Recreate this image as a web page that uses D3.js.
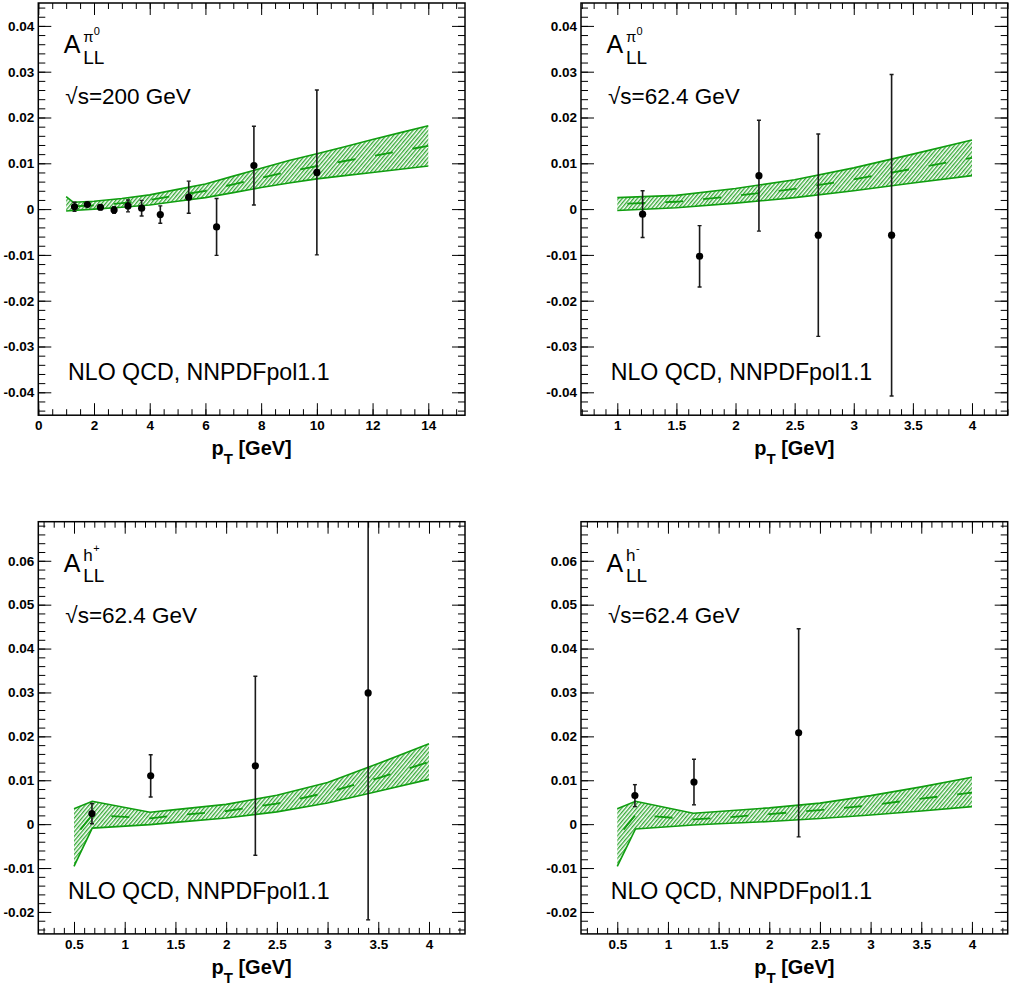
<!DOCTYPE html>
<html><head><meta charset="utf-8">
<script src="https://cdn.jsdelivr.net/npm/d3@7"></script>
<style>
body{margin:0;background:#fff}
svg{display:block}
text{font-family:"Liberation Sans",Arial,Helvetica,sans-serif}
</style>
</head><body>
<svg id="c" width="1015" height="988"></svg>
<script>
// ---------------- data ----------------
// Panel 1: pi0, sqrt(s)=200 GeV
const pi200X   = [1.30, 1.76, 2.23, 2.72, 3.22, 3.71, 4.38, 5.40, 6.40, 7.74, 10.0];
const pi200Y   = [0.0005, 0.0010, 0.0004, -0.0002, 0.0007, 0.0002, -0.0012, 0.0026, -0.0039, 0.0095, 0.0080];
const pi200Err = [0.0010, 0.0004, 0.0005, 0.0007, 0.0013, 0.0017, 0.0019, 0.0035, 0.0062, 0.0086, 0.0180];
const pi200ThX  = [1, 1.25, 2, 3, 4, 5, 6, 7, 8, 9, 10, 11, 12, 13, 14];
const pi200ThUp = [0.0027, 0.0015, 0.0017, 0.0023, 0.0031, 0.0043, 0.0055, 0.0072, 0.0089, 0.0106, 0.0121, 0.0136, 0.0152, 0.0167, 0.0182];
const pi200ThLo = [-0.0004, -0.0003, 0.0000, 0.0004, 0.0009, 0.0017, 0.0025, 0.0036, 0.0047, 0.0057, 0.0066, 0.0073, 0.0080, 0.0087, 0.0094];
const pi200ThC  = [0.0011, 0.0006, 0.0008, 0.0013, 0.0020, 0.0030, 0.0040, 0.0054, 0.0068, 0.0082, 0.0094, 0.0105, 0.0116, 0.0127, 0.0138];

// Panel 2: pi0, sqrt(s)=62.4 GeV
const pi62X   = [1.214, 1.696, 2.198, 2.70, 3.32];
const pi62Y   = [-0.0011, -0.0103, 0.0073, -0.0057, -0.0057];
const pi62Err = [0.0051, 0.0067, 0.0121, 0.0221, 0.0351];
const pi62ThX  = [1.0, 1.5, 2.0, 2.5, 3.0, 3.5, 4.0];
const pi62ThUp = [0.0025, 0.0030, 0.0045, 0.0064, 0.0090, 0.0120, 0.0151];
const pi62ThLo = [-0.0003, 0.0003, 0.0013, 0.0025, 0.0040, 0.0057, 0.0073];
const pi62ThC  = [0.0011, 0.0016, 0.0029, 0.0044, 0.0065, 0.0088, 0.0112];

// Panel 3: h+, sqrt(s)=62.4 GeV
const hpX   = [0.677, 1.256, 2.288, 3.40];
const hpY   = [0.0024, 0.0110, 0.0133, 0.0299];
const hpErr = [0.0023, 0.0048, 0.0204, 0.0517];
const hpThX  = [0.5, 0.68, 1.25, 1.5, 2.0, 2.5, 3.0, 3.5, 4.0];
const hpThUp = [0.0035, 0.0052, 0.0027, 0.0033, 0.0045, 0.0066, 0.0095, 0.0138, 0.0183];
const hpThLo = [-0.0096, -0.0009, -0.0001, 0.0004, 0.0014, 0.0028, 0.0048, 0.0075, 0.0102];
const hpThC  = [-0.0030, 0.0021, 0.0013, 0.0020, 0.0030, 0.0047, 0.0072, 0.0105, 0.0142];

// Panel 4: h-, sqrt(s)=62.4 GeV
const hmX   = [0.674, 1.257, 2.29];
const hmY   = [0.0065, 0.0096, 0.0208];
const hmErr = [0.0025, 0.0052, 0.0237];
const hmThX  = [0.5, 0.68, 1.25, 1.5, 2.0, 2.5, 3.0, 3.5, 4.0];
const hmThUp = [0.0035, 0.0052, 0.0025, 0.0029, 0.0037, 0.0048, 0.0065, 0.0085, 0.0107];
const hmThLo = [-0.0096, -0.0011, -0.0002, 0.0001, 0.0006, 0.0013, 0.0021, 0.0030, 0.0040];
const hmThC  = [-0.0030, 0.0021, 0.0011, 0.0014, 0.0023, 0.0032, 0.0043, 0.0058, 0.0072];

// tick values / labels
const yTicksTop = [-0.04, -0.03, -0.02, -0.01, 0, 0.01, 0.02, 0.03, 0.04];
const yLabelsTop = ["-0.04", "-0.03", "-0.02", "-0.01", "0", "0.01", "0.02", "0.03", "0.04"];
const yTicksBot = [-0.02, -0.01, 0, 0.01, 0.02, 0.03, 0.04, 0.05, 0.06];
const yLabelsBot = ["-0.02", "-0.01", "0", "0.01", "0.02", "0.03", "0.04", "0.05", "0.06"];
const xTicks200 = [0, 2, 4, 6, 8, 10, 12, 14];
const xLabels200 = ["0", "2", "4", "6", "8", "10", "12", "14"];
const xTicks62 = [1, 1.5, 2, 2.5, 3, 3.5, 4];
const xLabels62 = ["1", "1.5", "2", "2.5", "3", "3.5", "4"];
const xTicksH = [0.5, 1, 1.5, 2, 2.5, 3, 3.5, 4];
const xLabelsH = ["0.5", "1", "1.5", "2", "2.5", "3", "3.5", "4"];

// labels
const labelSup = ["π", "π", "h", "h"];
const labelSupSup = ["0", "0", "+", "-"];
const energyLabels = ["√s=200 GeV", "√s=62.4 GeV", "√s=62.4 GeV", "√s=62.4 GeV"];
const theoryLabel = "NLO QCD, NNPDFpol1.1";
const xTitle = ["p", "T", " [GeV]"];

// ---------------- drawing ----------------
const GREEN = "#109e10";
const svg = d3.select("#c");
const defs = svg.append("defs");
const pat = defs.append("pattern").attr("id", "hatch")
  .attr("patternUnits", "userSpaceOnUse").attr("width", 2.9).attr("height", 10)
  .attr("patternTransform", "rotate(40)");
pat.append("line").attr("x1", 0.7).attr("y1", 0).attr("x2", 0.7).attr("y2", 10)
  .attr("stroke", "#1f9f1f").attr("stroke-width", 1.2);

const W = 426.7, H = 412.2;
const panels = [
  {left: 38.3, top: 3, xd: [0, 15.318], yd: [-0.045, 0.045],
   px: pi200X, py: pi200Y, pe: pi200Err, tx: pi200ThX, tu: pi200ThUp, tl: pi200ThLo, tc: pi200ThC,
   xt: xTicks200, xl: xLabels200, xm: 0.5, yt: yTicksTop, yl: yLabelsTop},
  {left: 581, top: 3, xd: [0.693, 4.302], yd: [-0.045, 0.045],
   px: pi62X, py: pi62Y, pe: pi62Err, tx: pi62ThX, tu: pi62ThUp, tl: pi62ThLo, tc: pi62ThC,
   xt: xTicks62, xl: xLabels62, xm: 0.1, yt: yTicksTop, yl: yLabelsTop},
  {left: 38.3, top: 521.7, xd: [0.148, 4.355], yd: [-0.025, 0.0689],
   px: hpX, py: hpY, pe: hpErr, tx: hpThX, tu: hpThUp, tl: hpThLo, tc: hpThC,
   xt: xTicksH, xl: xLabelsH, xm: 0.1, yt: yTicksBot, yl: yLabelsBot},
  {left: 581, top: 521.7, xd: [0.142, 4.353], yd: [-0.025, 0.0689],
   px: hmX, py: hmY, pe: hmErr, tx: hmThX, tu: hmThUp, tl: hmThLo, tc: hmThC,
   xt: xTicksH, xl: xLabelsH, xm: 0.1, yt: yTicksBot, yl: yLabelsBot}
];

function minorTicks(domain, step) {
  const out = [];
  const start = Math.ceil(domain[0] / step - 1e-9);
  const end = Math.floor(domain[1] / step + 1e-9);
  for (let i = start; i <= end; i++) out.push(+(i * step).toFixed(6));
  return out;
}

panels.forEach((p, k) => {
  const g = svg.append("g").attr("transform", `translate(${p.left},${p.top})`);
  const x = d3.scaleLinear().domain(p.xd).range([0, W]);
  const y = d3.scaleLinear().domain(p.yd).range([H, 0]);

  defs.append("clipPath").attr("id", "clip" + k)
    .append("rect").attr("x", 0).attr("y", 0).attr("width", W).attr("height", H);
  const plot = g.append("g").attr("clip-path", `url(#clip${k})`);

  const band = p.tx.map((t, i) => ({x: t, u: p.tu[i], l: p.tl[i], c: p.tc[i]}));
  plot.append("path").datum(band)
    .attr("d", d3.area().x(d => x(d.x)).y0(d => y(d.l)).y1(d => y(d.u)))
    .attr("fill", "url(#hatch)").attr("stroke", "none");
  plot.append("path").datum(band)
    .attr("d", d3.line().x(d => x(d.x)).y(d => y(d.u)))
    .attr("fill", "none").attr("stroke", GREEN).attr("stroke-width", 1.6);
  plot.append("path").datum(band)
    .attr("d", d3.line().x(d => x(d.x)).y(d => y(d.l)))
    .attr("fill", "none").attr("stroke", GREEN).attr("stroke-width", 1.6);
  plot.append("path").datum(band)
    .attr("d", d3.line().x(d => x(d.x)).y(d => y(d.c)))
    .attr("fill", "none").attr("stroke", GREEN).attr("stroke-width", 1.8)
    .attr("stroke-dasharray", "18,20").attr("stroke-dashoffset", -10);

  const pts = p.px.map((v, i) => ({x: v, y: p.py[i], e: p.pe[i]}));
  const eb = plot.append("g");
  eb.selectAll("line.bar").data(pts).join("line").attr("class", "bar")
    .attr("x1", d => x(d.x)).attr("x2", d => x(d.x))
    .attr("y1", d => y(d.y - d.e)).attr("y2", d => y(d.y + d.e))
    .attr("stroke", "#1a1a1a").attr("stroke-width", 1.6);
  eb.selectAll("line.capt").data(pts).join("line").attr("class", "capt")
    .attr("x1", d => x(d.x) - 2).attr("x2", d => x(d.x) + 2)
    .attr("y1", d => y(d.y + d.e)).attr("y2", d => y(d.y + d.e))
    .attr("stroke", "#1a1a1a").attr("stroke-width", 1.4);
  eb.selectAll("line.capb").data(pts).join("line").attr("class", "capb")
    .attr("x1", d => x(d.x) - 2).attr("x2", d => x(d.x) + 2)
    .attr("y1", d => y(d.y - d.e)).attr("y2", d => y(d.y - d.e))
    .attr("stroke", "#1a1a1a").attr("stroke-width", 1.4);
  eb.selectAll("circle").data(pts).join("circle")
    .attr("cx", d => x(d.x)).attr("cy", d => y(d.y)).attr("r", 3.6).attr("fill", "#000");

  // axes (ticks inside)
  const yMinor = minorTicks(p.yd, 0.002);
  const xMinor = minorTicks(p.xd, p.xm);
  function styleAxis(sel) {
    sel.select(".domain").remove();
    sel.selectAll("line").attr("stroke", "#000").attr("stroke-width", 1);
  }
  g.append("g").call(d3.axisLeft(y).tickValues(yMinor).tickSize(-7).tickFormat("")).call(styleAxis);
  g.append("g").attr("transform", `translate(${W},0)`)
    .call(d3.axisRight(y).tickValues(yMinor).tickSize(-7).tickFormat("")).call(styleAxis);
  g.append("g").attr("transform", `translate(${W},0)`)
    .call(d3.axisRight(y).tickValues(p.yt).tickSize(-13).tickFormat("")).call(styleAxis);
  const yl = g.append("g")
    .call(d3.axisLeft(y).tickValues(p.yt).tickSize(-13).tickPadding(4).tickFormat((d, i) => p.yl[i]))
    .call(styleAxis);
  yl.attr("font-family", null).attr("font-size", null);
  yl.selectAll("text").attr("font-family", "'Liberation Sans',Arial,sans-serif")
    .attr("font-size", 13.5).attr("font-weight", "bold").attr("fill", "#000");

  g.append("g").attr("transform", `translate(0,${H})`)
    .call(d3.axisBottom(x).tickValues(xMinor).tickSize(-6).tickFormat("")).call(styleAxis);
  g.append("g")
    .call(d3.axisTop(x).tickValues(xMinor).tickSize(-6).tickFormat("")).call(styleAxis);
  g.append("g")
    .call(d3.axisTop(x).tickValues(p.xt).tickSize(-12).tickFormat("")).call(styleAxis);
  const xa = g.append("g").attr("transform", `translate(0,${H})`)
    .call(d3.axisBottom(x).tickValues(p.xt).tickSize(-12).tickPadding(5.5).tickFormat((d, i) => p.xl[i]))
    .call(styleAxis);
  xa.attr("font-family", null).attr("font-size", null);
  xa.selectAll("text").attr("font-family", "'Liberation Sans',Arial,sans-serif")
    .attr("font-size", 13.5).attr("font-weight", "bold").attr("fill", "#000");

  // frame
  g.append("rect").attr("x", 0).attr("y", 0).attr("width", W).attr("height", H)
    .attr("fill", "none").attr("stroke", "#000").attr("stroke-width", 1.5);

  // x title
  const t = g.append("text").attr("x", W / 2).attr("y", H + 40)
    .attr("text-anchor", "middle").attr("font-weight", "bold").attr("font-size", 20).attr("fill", "#000");
  t.append("tspan").text(xTitle[0]);
  t.append("tspan").attr("font-size", 15).attr("dy", 9).text(xTitle[1]);
  t.append("tspan").attr("dy", -9).text(xTitle[2]);

  // label A_LL^...
  const isPi = labelSup[k] === "π";
  g.append("text").attr("x", 25.5).attr("y", 50.3).attr("font-size", 25).text("A");
  g.append("text").attr("x", 45).attr("y", 60.5).attr("font-size", 19).text("LL");
  g.append("text").attr("x", 45).attr("y", 39).attr("font-size", isPi ? 15 : 17).text(labelSup[k]);
  g.append("text").attr("x", isPi ? 55.5 : 55).attr("y", isPi ? 32 : 30.5)
    .attr("font-size", 11).text(labelSupSup[k]);

  g.append("text").attr("x", 27).attr("y", 101).attr("font-size", 22.5).text(energyLabels[k]);
  g.append("text").attr("x", 29.7).attr("y", 377.3).attr("font-size", 23.2).text(theoryLabel);
});
</script>
</body></html>
